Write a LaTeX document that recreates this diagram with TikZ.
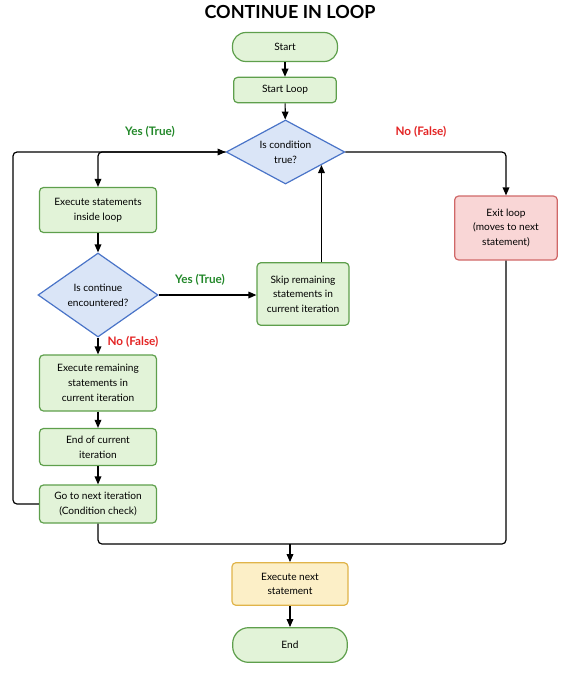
\documentclass[tikz,border=0pt]{standalone}
\usepackage{fontspec}
\setmainfont{Lato}
\usetikzlibrary{shapes.geometric,arrows.meta,calc}
\definecolor{gfill}{HTML}{E2F3D8}
\definecolor{gborder}{HTML}{5E9F4C}
\definecolor{bfill}{HTML}{DAE5F7}
\definecolor{bborder}{HTML}{4A74C8}
\definecolor{rfill}{HTML}{F9D6D6}
\definecolor{rborder}{HTML}{D06868}
\definecolor{yfill}{HTML}{FCEFC7}
\definecolor{yborder}{HTML}{E0B44A}
\definecolor{ltgreen}{HTML}{23882A}
\definecolor{ltred}{HTML}{E32424}
\begin{document}
\begin{tikzpicture}[x=0.75pt,y=-0.75pt,
  boxbase/.style={rounded corners=3pt, line width=0.9pt, align=center,
    font=\fontsize{7.6}{11}\selectfont, inner sep=1pt},
  greenbox/.style={boxbase, draw=gborder, fill=gfill},
  termbox/.style={greenbox, rounded corners=10pt},
  redbox/.style={boxbase, draw=rborder, fill=rfill},
  yellowbox/.style={boxbase, draw=yborder, fill=yfill},
  decision/.style={diamond, draw=bborder, fill=bfill, line width=0.9pt, align=center,
    font=\fontsize{7.6}{11}\selectfont, inner sep=0pt, aspect=1.6},
  arr/.style={-{Triangle[length=6pt,width=5pt]}, line width=0.9pt, rounded corners=3pt},
  plain/.style={line width=0.9pt, rounded corners=3pt},
  lbl/.style={font=\bfseries\fontsize{8.8}{10}\selectfont, inner sep=1pt}
]
\useasboundingbox (0,0) rectangle (581,676);
\node[font=\bfseries\fontsize{13.5}{16}\selectfont] (title) at (290,12) {CONTINUE IN LOOP};

\node[termbox, minimum width=78.75pt, minimum height=21.75pt] (start) at (285,47) {Start};
\node[greenbox, minimum width=77pt, minimum height=19pt] (sloop) at (285,90) {Start Loop};
\node[decision, minimum width=89pt, minimum height=48pt] (cond) at (285.5,152) {Is condition\\true?};
\node[greenbox, minimum width=87.75pt, minimum height=33.75pt] (exec) at (98,210) {Execute statements\\inside loop};
\node[decision, minimum width=90pt, minimum height=63pt] (cont) at (98,295) {Is continue\\encountered?};
\node[greenbox, minimum width=69pt, minimum height=47pt] (skip) at (303,294) {Skip remaining\\statements in\\current iteration};
\node[greenbox, minimum width=87.75pt, minimum height=42pt] (rem) at (98,383) {Execute remaining\\statements in\\current iteration};
\node[greenbox, minimum width=87.75pt, minimum height=27.75pt] (eoc) at (98,447) {End of current\\iteration};
\node[greenbox, minimum width=87.75pt, minimum height=28.5pt] (go) at (98,504) {Go to next iteration\\(Condition check)};
\node[redbox, minimum width=77pt, minimum height=48pt] (exit) at (506,228) {Exit loop\\(moves to next\\statement)};
\node[yellowbox, minimum width=87pt, minimum height=32pt] (next) at (290,584) {Execute next\\statement};
\node[termbox, minimum width=86pt, minimum height=26pt, rounded corners=12pt] (end) at (290,645) {End};

\node[lbl, text=ltgreen] (y1) at (150,132) {Yes (True)};
\node[lbl, text=ltred] (n1) at (421,132) {No (False)};
\node[lbl, text=ltgreen] (y2) at (200,280) {Yes (True)};
\node[lbl, text=ltred] (n2) at (133,342) {No (False)};

\coordinate (lp) at (13,504);
\coordinate (jn) at (290,544);
\coordinate (cin) at ($(cond.south)!0.6!(cond.east)$);

\draw[arr] (start) -- (sloop);
\draw[arr] (sloop) -- (cond);
\draw[arr] (cond.east) -| (exit.north);
\draw[arr] (cond.west) -| (exec.north);
\draw[arr] (go.west) -- (lp) |- (cond.west);
\draw[arr] (exec) -- (cont);
\draw[arr] (cont.east) -- (cont.east -| skip.west);
\draw[arr] (skip.north -| cin) -- (cin);
\draw[arr] (cont) -- (rem);
\draw[arr] (rem) -- (eoc);
\draw[arr] (eoc) -- (go);
\draw[plain] (go.south) |- (jn) -| (exit.south);
\draw[arr] (jn) -- (next);
\draw[arr] (next) -- (end);
\end{tikzpicture}
\end{document}
